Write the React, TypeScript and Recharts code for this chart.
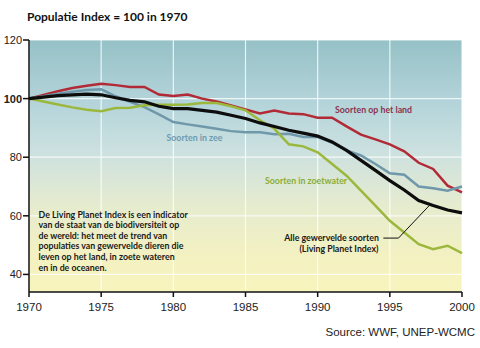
import React from 'react';
import { LineChart, Line, XAxis, YAxis, CartesianGrid, ReferenceLine } from 'recharts';

const years = [1970, 1971, 1972, 1973, 1974, 1975, 1976, 1977, 1978, 1979, 1980, 1981, 1982, 1983, 1984, 1985, 1986, 1987, 1988, 1989, 1990, 1991, 1992, 1993, 1994, 1995, 1996, 1997, 1998, 1999, 2000];

const land = [100, 101.2, 102.5, 103.6, 104.4, 105.1, 104.6, 104, 104, 101.4, 100.9, 101.4, 100, 99, 97.7, 96.3, 94.9, 95.9, 94.9, 94.7, 93.5, 93.5, 90.5, 87.7, 86.1, 84.4, 82, 78.1, 76, 70.3, 68];
const zee = [100, 100.8, 101.7, 102.3, 102.9, 103.2, 100.8, 98.9, 97.1, 94.6, 92, 91.2, 90.5, 89.7, 88.9, 88.5, 88.5, 87.8, 88, 86.9, 86.9, 85, 82.3, 80.6, 77.7, 74.5, 74, 70, 69.4, 68.6, 70];
const zoetwater = [100, 99, 98, 97, 96.2, 95.7, 96.8, 96.9, 97.7, 97.9, 97.9, 98, 98.5, 98.5, 97.4, 96, 92.6, 89.7, 84.4, 83.7, 81.7, 77.7, 73.7, 68.6, 63.5, 58.3, 54.3, 50.3, 48.6, 49.8, 47.3];
const lpi = [100, 100.5, 101, 101.3, 101.5, 101.3, 100.3, 99.4, 98.9, 97.4, 96.6, 96.6, 96, 95.4, 94.3, 93.2, 91.7, 90.5, 89.2, 88.2, 87.2, 85.2, 82.3, 78.9, 75.5, 72, 68.8, 65.2, 63.5, 62, 61];

const xTicks = [1970, 1975, 1980, 1985, 1990, 1995, 2000];
const yTicks = [40, 60, 80, 100, 120];

const titleText = 'Populatie Index = 100 in 1970';
const noteLines = [
  'De Living Planet Index is een indicator',
  'van de staat van de biodiversiteit op',
  'de wereld: het meet de trend van',
  'populaties van gewervelde dieren die',
  'leven op het land, in zoete wateren',
  'en in de oceanen.',
];
const sourceText = 'Source: WWF, UNEP-WCMC';

const data = years.map((y, i) => ({ year: y, land: land[i], zee: zee[i], zoet: zoetwater[i], lpi: lpi[i] }));

const YTick = (props: any) => {
  const { x, y, payload } = props;
  return (
    <text x={x} y={y} dy="0.36em" textAnchor="end" fontSize={11} fill="#222"
      fontFamily="'Liberation Sans', Arial, sans-serif" fontWeight={payload.value === 100 ? 'bold' : 'normal'}>
      {payload.value}
    </text>
  );
};

const labelFont = "Lato, 'Open Sans', sans-serif";

export default function App() {
  return (
    <div style={{ position: 'absolute', left: 0, top: 0, width: 480, height: 348, background: '#fff' }}>
      <LineChart width={480} height={348} data={data} margin={{ top: 40, right: 18, bottom: 0, left: 0 }}>
        <defs>
          <linearGradient id="bgGrad" x1="0" y1="0" x2="0" y2="1">
            <stop offset="0%" stopColor="#95c1c6" />
            <stop offset="25%" stopColor="#b4d4da" />
            <stop offset="45%" stopColor="#cde1e0" />
            <stop offset="65%" stopColor="#e5ebcf" />
            <stop offset="85%" stopColor="#f3f1c2" />
            <stop offset="100%" stopColor="#f8f4bc" />
          </linearGradient>
        </defs>
        <CartesianGrid stroke="#ffffff" strokeOpacity={0.8} strokeWidth={1.2} fill="url(#bgGrad)" fillOpacity={1} />
        <XAxis dataKey="year" type="number" domain={[1970, 2000]} ticks={xTicks} height={56}
          stroke="#111" strokeWidth={1.5} tickSize={5} tickMargin={6}
          tick={{ fontSize: 11.5, fill: '#222', fontFamily: "'Liberation Sans', Arial, sans-serif" }} />
        <YAxis type="number" domain={[34, 120]} ticks={yTicks} width={29} stroke="#111" strokeWidth={1.5}
          tickSize={6} tickMargin={1} tick={<YTick />} allowDataOverflow />
        <Line dataKey="land" stroke="#b22a36" strokeWidth={2.5} dot={false} isAnimationActive={false} />
        <Line dataKey="zee" stroke="#6f98aa" strokeWidth={2.5} dot={false} isAnimationActive={false} />
        <Line dataKey="zoet" stroke="#9bb83c" strokeWidth={2.5} dot={false} isAnimationActive={false} />
        <Line dataKey="lpi" stroke="#0d0d0d" strokeWidth={3.2} dot={false} isAnimationActive={false} />
        <ReferenceLine segment={[{ x: 1994.55, y: 52.4 }, { x: 1995.6, y: 52.4 }]} stroke="#111" strokeWidth={1} ifOverflow="visible" />
        <ReferenceLine segment={[{ x: 1995.6, y: 52.4 }, { x: 1997.75, y: 63.6 }]} stroke="#111" strokeWidth={1} ifOverflow="visible" />
      </LineChart>
      <svg width={480} height={348} style={{ position: 'absolute', left: 0, top: 0, pointerEvents: 'none' }}>
        <text x={27} y={21} fontSize={12} fontWeight="bold" fill="#111" fontFamily={labelFont}>{titleText}</text>
        {noteLines.map((t, i) => (
          <text key={i} x={38.5} y={217.5 + i * 10.65} fontSize={8.8} fontWeight="bold" fill="#1a1a1a" fontFamily={labelFont}>{t}</text>
        ))}
        <text x={335} y={113} fontSize={8.8} fontWeight="bold" fill="#8a3450" fontFamily={labelFont}>Soorten op het land</text>
        <text x={166.5} y={140.5} fontSize={8.8} fontWeight="bold" fill="#6e9bb0" fontFamily={labelFont}>Soorten in zee</text>
        <text x={265} y={184} fontSize={8.8} fontWeight="bold" fill="#8aae38" fontFamily={labelFont}>Soorten in zoetwater</text>
        <text x={379} y={240.5} textAnchor="end" fontSize={8.8} fontWeight="bold" fill="#1a1a1a" fontFamily={labelFont}>Alle gewervelde soorten</text>
        <text x={378.5} y={251.5} textAnchor="end" fontSize={8.8} fontWeight="bold" fill="#1a1a1a" fontFamily={labelFont}>(Living Planet Index)</text>
        <text x={475} y={336} textAnchor="end" fontSize={11.5} fill="#222" fontFamily="'Liberation Sans', Arial, sans-serif">{sourceText}</text>
      </svg>
    </div>
  );
}
